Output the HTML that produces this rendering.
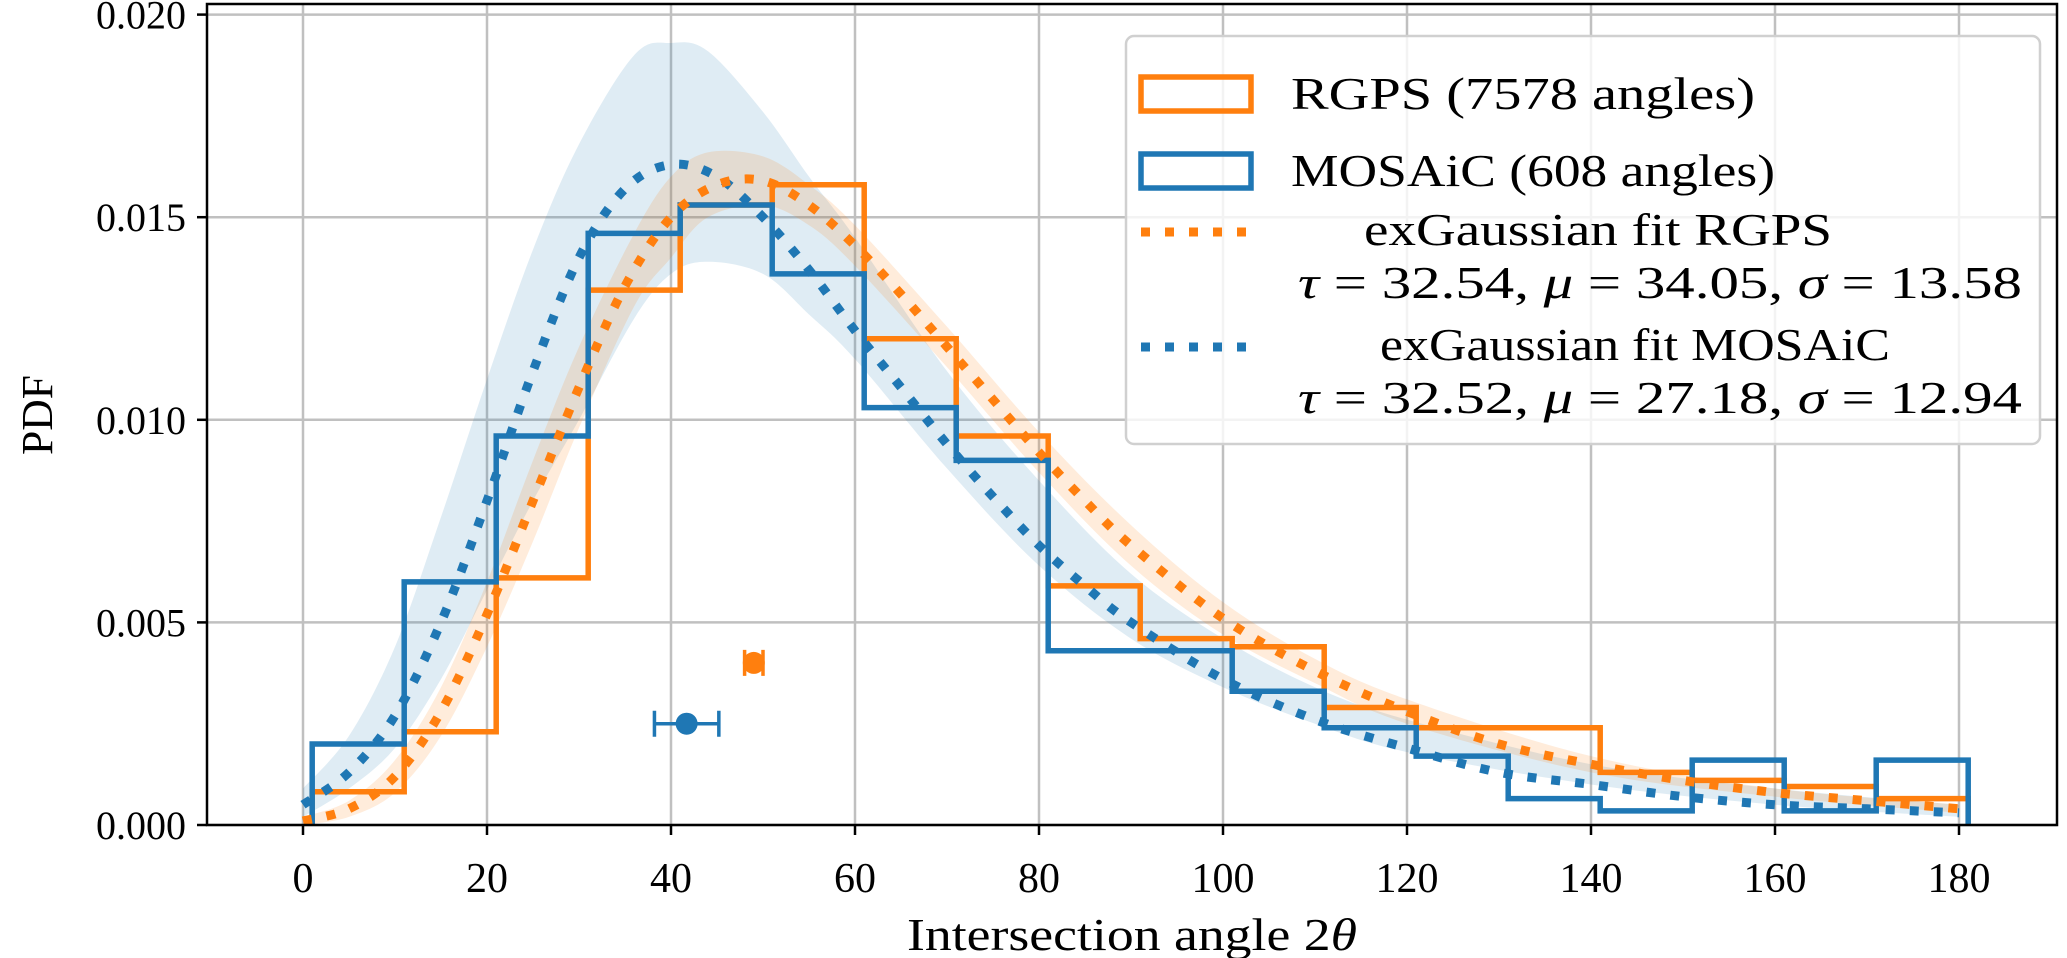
<!DOCTYPE html>
<html><head><meta charset="utf-8"><style>
html,body{margin:0;padding:0;background:#fff;}
svg{display:block;font-family:"Liberation Serif","DejaVu Serif",serif;}
</style></head><body>
<svg id="chart" width="2067" height="958" viewBox="0 0 2067 958" xmlns="http://www.w3.org/2000/svg">
<g id="grid"></g>
<g id="bands"></g>
<g id="hists"></g>
<g id="fits"></g>
<g id="errs"></g>
<g id="axes"></g>
<g id="legend"></g>
</svg>
<script>
const binEdges = [1,11,21,31,41,51,61,71,81,91,101,111,121,131,141,151,161,171,181];
const rgpsHist = [0.00082,0.0023,0.0061,0.0132,0.0153,0.0158,0.0120,0.0096,0.0059,0.0046,0.0044,0.0029,0.0024,0.0024,0.0013,0.0011,0.00095,0.00065];
const mosaicHist = [0.0020,0.0060,0.0096,0.0146,0.0153,0.0136,0.0103,0.0090,0.0043,0.0043,0.0033,0.0024,0.0017,0.00065,0.00035,0.0016,0.00035,0.0016];
const fitX = [0,5,10,15,20,25,30,35,40,45,50,55,60,65,70,75,80,85,90,100,110,120,130,140,150,160,170,180];
const rgpsFit = [0.0001,0.0004,0.0012,0.0028,0.0052,0.0080,0.0108,0.0133,0.0150,0.0158,0.0159,0.0153,0.0143,0.0131,0.0118,0.0105,0.0092,0.0080,0.0069,0.0051,0.0038,0.0028,0.0020,0.0015,0.0011,0.0008,0.0006,0.0004];
const mosaicFit = [0.0005,0.0013,0.0027,0.0050,0.0080,0.0112,0.0140,0.0157,0.0163,0.0160,0.0150,0.0137,0.0122,0.0108,0.0094,0.0081,0.0069,0.0059,0.0050,0.0036,0.0026,0.0019,0.0013,0.0010,0.0007,0.0005,0.0004,0.0003];
const bandX = [0,5,10,15,20,25,30,36,40,44,50,55,60,70,80,90,100,110,120,140,160,180];
const mosaicUpper = [0.0009,0.0022,0.0044,0.0076,0.0110,0.0142,0.0168,0.0190,0.0193,0.0191,0.0176,0.0160,0.0145,0.0112,0.0085,0.0062,0.0046,0.0034,0.0026,0.0015,0.0009,0.0005];
const mosaicLower = [0.0002,0.0009,0.0019,0.0036,0.0058,0.0080,0.0100,0.0125,0.0136,0.0139,0.0136,0.0126,0.0115,0.0088,0.0064,0.0046,0.0034,0.0025,0.0018,0.0010,0.0005,0.0002];
const rgpsUpper = [0.0002,0.0006,0.0016,0.0034,0.0060,0.0090,0.0118,0.0146,0.0160,0.0166,0.0165,0.0158,0.0148,0.0123,0.0097,0.0074,0.0055,0.0041,0.0031,0.0017,0.0009,0.0005];
const rgpsLower = [0.0000,0.0002,0.0008,0.0022,0.0044,0.0070,0.0098,0.0128,0.0140,0.0150,0.0153,0.0148,0.0138,0.0113,0.0087,0.0064,0.0047,0.0035,0.0025,0.0013,0.0007,0.0003];
const pointX = [49.0, 41.7];
const pointY = [0.0040, 0.0025];
const pointXerr = [1.0, 3.5];
const xTicks = [0,20,40,60,80,100,120,140,160,180];
const yTicks = [0,0.005,0.010,0.015,0.020];
const yTickLabels = ["0.000","0.005","0.010","0.015","0.020"];

const OR="#ff7f0e", BL="#1f77b4";
const L=207,R=2057,T=4,B=825;
const X=v=>303+v*9.2;
const Y=v=>825-v*40520;
const NS="http://www.w3.org/2000/svg";
function mk(parent,tag,attrs,text){const e=document.createElementNS(NS,tag);for(const k in attrs)e.setAttribute(k,attrs[k]);if(text!==undefined)e.textContent=text;document.getElementById(parent).appendChild(e);return e;}
function smooth(xs,ys){const p=xs.map((x,i)=>[X(x),Y(ys[i])]);let d="M"+p[0][0]+","+p[0][1];for(let i=0;i<p.length-1;i++){const p0=p[Math.max(0,i-1)],p1=p[i],p2=p[i+1],p3=p[Math.min(p.length-1,i+2)];const c1=[p1[0]+(p2[0]-p0[0])/6,p1[1]+(p2[1]-p0[1])/6],c2=[p2[0]-(p3[0]-p1[0])/6,p2[1]-(p3[1]-p1[1])/6];d+=" C"+c1+" "+c2+" "+p2;}return d;}

xTicks.forEach(t=>{const e=mk("grid","line",{x1:X(t),x2:X(t),y1:T,y2:B,stroke:"#c0c0c0","stroke-width":2.5});

});
yTicks.forEach(t=>{const e=mk("grid","line",{x1:L,x2:R,y1:Y(t),y2:Y(t),stroke:"#c0c0c0","stroke-width":2.5});

});

function band(up,lo,col,op,name){let d=smooth(bandX,up);const rx=bandX.slice().reverse(),rl=lo.slice().reverse();d+=" L"+smooth(rx,rl).slice(1)+" Z";const e=mk("bands","path",{d:d,fill:col,"fill-opacity":op,stroke:"none"});

}
band(mosaicUpper,mosaicLower,BL,0.14,"mosaic-band");
band(rgpsUpper,rgpsLower,OR,0.15,"rgps-band");

function hist(vals,col,name){let d="M"+X(binEdges[0])+","+Y(0);vals.forEach((v,i)=>{d+=" L"+X(binEdges[i])+","+Y(v)+" L"+X(binEdges[i+1])+","+Y(v);});d+=" L"+X(binEdges[binEdges.length-1])+","+Y(0);const e=mk("hists","path",{d:d,fill:"none",stroke:col,"stroke-width":5.5,"stroke-linejoin":"miter"});

}
hist(rgpsHist,OR,"rgps-histogram");
hist(mosaicHist,BL,"mosaic-histogram");

function fit(vals,col,name){const e=mk("fits","path",{d:smooth(fitX,vals),fill:"none",stroke:col,"stroke-width":9,"stroke-dasharray":"9 15"});

}
fit(mosaicFit,BL,"mosaic-fit-curve");
fit(rgpsFit,OR,"rgps-fit-curve");

[OR,BL].forEach((col,i)=>{const y=Y(pointY[i]),x1=X(pointX[i]-pointXerr[i]),x2=X(pointX[i]+pointXerr[i]);
const l=mk("errs","path",{d:`M${x1},${y} L${x2},${y} M${x1},${y-13} L${x1},${y+13} M${x2},${y-13} L${x2},${y+13}`,stroke:col,"stroke-width":3.5,fill:"none"});


const c=mk("errs","circle",{cx:X(pointX[i]),cy:y,r:11,fill:col});

});

const fr=mk("axes","rect",{x:L,y:T,width:R-L,height:B-T,fill:"none",stroke:"#000","stroke-width":2.5});


xTicks.forEach(t=>{mk("axes","line",{x1:X(t),x2:X(t),y1:B,y2:B+10,stroke:"#000","stroke-width":2.5});
const e=mk("axes","text",{x:X(t),y:892,"font-size":42,"text-anchor":"middle"},String(t));

});
yTicks.forEach((t,i)=>{mk("axes","line",{x1:L-10,x2:L,y1:Y(t),y2:Y(t),stroke:"#000","stroke-width":2.5});
const e=mk("axes","text",{x:186,y:Y(t)+14,"font-size":40,"text-anchor":"end"},yTickLabels[i]);

});
const xt=mk("axes","text",{x:1132,y:950,"font-size":46,"text-anchor":"middle",textLength:450,lengthAdjust:"spacingAndGlyphs"});
xt.innerHTML='Intersection angle 2<tspan font-style="italic">θ</tspan>';


const yt=mk("axes","text",{x:0,y:0,"font-size":44,"text-anchor":"middle",transform:"translate(52,415) rotate(-90)",textLength:80,lengthAdjust:"spacingAndGlyphs"},"PDF");



const lb=mk("legend","rect",{x:1126,y:36,width:914,height:408,rx:8,fill:"#fff","fill-opacity":0.8,stroke:"#d0d0d0","stroke-width":2.5});


[[OR,77,"RGPS (7578 angles)",464],[BL,154,"MOSAiC (608 angles)",484]].forEach((e,i)=>{
const r=mk("legend","rect",{x:1141,y:e[1],width:110,height:34,fill:"none",stroke:e[0],"stroke-width":5.5});


const t=mk("legend","text",{x:1291,y:e[1]+32,"font-size":46,textLength:e[3],lengthAdjust:"spacingAndGlyphs"},e[2]);

});
[[OR,232,245,298,"exGaussian fit RGPS","32.54","34.05","13.58",468],[BL,347,360,413,"exGaussian fit MOSAiC","32.52","27.18","12.94",510]].forEach((e,i)=>{
const l=mk("legend","line",{x1:1141,x2:1251,y1:e[1],y2:e[1],stroke:e[0],"stroke-width":9,"stroke-dasharray":"9 15"});


const t1=mk("legend","text",{x:i?1380:1364,y:e[2],"font-size":46,textLength:e[8],lengthAdjust:"spacingAndGlyphs"},e[4]);


const t2=mk("legend","text",{x:1298,y:e[3],"font-size":46,textLength:724,lengthAdjust:"spacingAndGlyphs"});
t2.innerHTML=`<tspan font-style="italic">τ</tspan> = ${e[5]}, <tspan font-style="italic">μ</tspan> = ${e[6]}, <tspan font-style="italic">σ</tspan> = ${e[7]}`;

});
</script>
</body></html>
